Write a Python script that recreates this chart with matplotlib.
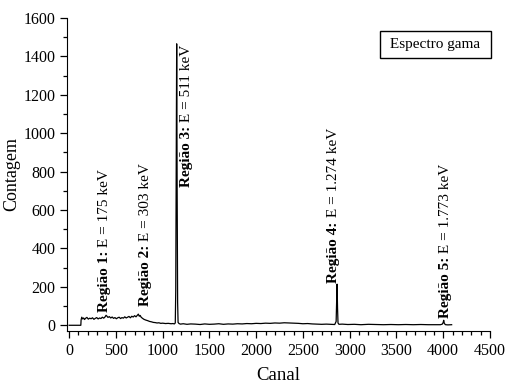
import numpy as np
import matplotlib
matplotlib.use('Agg')
import matplotlib.pyplot as plt
from matplotlib.ticker import MultipleLocator

plt.rcParams['font.family'] = ['Liberation Serif', 'DejaVu Serif']

# spectrum (channel, counts), rows of 10
# ---------------------------------------------------------------------------------------
canal = [0, 60, 125, 128, 135, 145, 155, 165, 175, 190,
         205, 220, 235, 250, 265, 280, 295, 310, 325, 340,
         355, 370, 385, 395, 405, 415, 430, 445, 460, 475,
         490, 505, 520, 535, 550, 565, 580, 595, 610, 625,
         640, 655, 670, 685, 700, 715, 730, 740, 750, 760,
         770, 785, 800, 820, 840, 860, 880, 900, 920, 940,
         960, 980, 1000, 1030, 1060, 1090, 1110, 1125, 1135, 1140,
         1145, 1150, 1155, 1160, 1165, 1175, 1190, 1220, 1260, 1300,
         1350, 1400, 1450, 1500, 1550, 1600, 1650, 1700, 1750, 1800,
         1850, 1900, 1950, 2000, 2050, 2100, 2150, 2200, 2250, 2300,
         2350, 2400, 2450, 2500, 2550, 2600, 2650, 2700, 2750, 2800,
         2840, 2855, 2860, 2865, 2870, 2875, 2885, 2920, 2980, 3050,
         3120, 3200, 3280, 3360, 3440, 3520, 3600, 3680, 3760, 3840,
         3920, 3970, 3990, 4000, 4005, 4012, 4025, 4050, 4090]
contagem = [0, 0, 0, 28, 42, 33, 38, 30, 36, 41,
            32, 37, 34, 39, 31, 36, 40, 33, 38, 35,
            42, 37, 44, 52, 47, 41, 45, 38, 43, 36,
            40, 34, 39, 42, 35, 40, 37, 44, 38, 42,
            46, 39, 47, 43, 50, 44, 52, 58, 47, 51,
            42, 36, 31, 27, 24, 20, 18, 15, 14, 12,
            13, 10, 11, 9, 10, 8, 9, 7, 12, 180,
            900, 1465, 700, 120, 15, 9, 6, 8, 5, 7,
            6, 4, 7, 5, 6, 8, 5, 7, 6, 8,
            7, 9, 8, 10, 9, 11, 10, 12, 11, 13,
            12, 11, 10, 8, 9, 7, 6, 5, 6, 5,
            4, 20, 120, 214, 90, 12, 5, 6, 4, 5,
            3, 5, 4, 3, 4, 3, 4, 3, 4, 3,
            3, 3, 6, 15, 26, 9, 3, 2, 3]

# peak annotations
reg_nome = ['Região 1:', 'Região 2:', 'Região 3:', 'Região 4:', 'Região 5:']
reg_energia = ['E = 175 keV', 'E = 303 keV', 'E = 511 keV', 'E = 1.274 keV',
               'E = 1.773 keV']
reg_x = [375, 815, 1260, 2830, 4020]
reg_y = [68, 100, 720, 222, 38]

# figure
# ---------------------------------------------------------------------------------------
fig = plt.figure(figsize=(5.12, 3.89), dpi=100)
ax = fig.add_axes([0.131, 0.149, 0.826, 0.805])

ax.plot(canal, contagem, c='k', lw=0.9)

ax.set_xlim(-22, 4500)
ax.set_ylim(-30, 1600)
ax.xaxis.set_major_locator(MultipleLocator(500))
ax.xaxis.set_minor_locator(MultipleLocator(100))
ax.yaxis.set_major_locator(MultipleLocator(200))
ax.yaxis.set_minor_locator(MultipleLocator(100))
ax.spines['top'].set_visible(False)
ax.spines['right'].set_visible(False)
ax.tick_params(which='both', direction='out', labelsize=11.5, width=0.9)
ax.tick_params(which='major', length=5)
ax.tick_params(which='minor', length=3)
ax.set_xlabel('Canal', fontsize=13.5, labelpad=6)
ax.set_ylabel('Contagem', fontsize=13, labelpad=2)

for nome, en, x, y in zip(reg_nome, reg_energia, reg_x, reg_y):
    t1 = ax.text(x, y, nome, rotation=90, ha='center', va='bottom',
                 fontsize=11, fontweight='bold')
    ax.annotate(' ' + en, xy=(0.5, 1), xycoords=t1, rotation=90,
                ha='center', va='bottom', fontsize=11)

ax.text(0.871, 0.915, ' Espectro gama ', transform=ax.transAxes, ha='center',
        va='center', fontsize=11,
        bbox=dict(boxstyle='square,pad=0.45', fc='w', ec='k', lw=1))

fig.savefig('out.png', dpi=100)
